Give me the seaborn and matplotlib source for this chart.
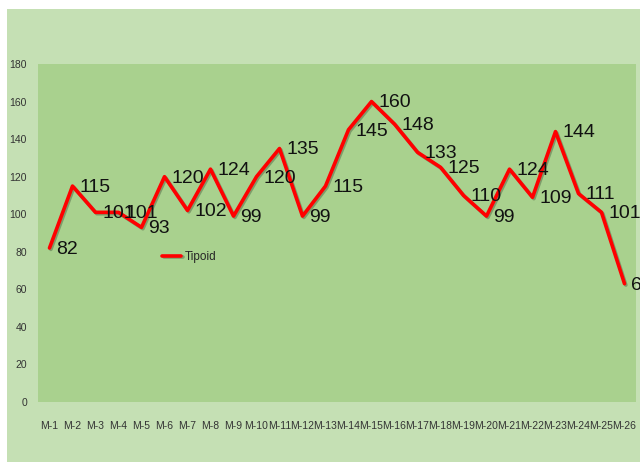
import pandas as pd
import matplotlib.pyplot as plt
import matplotlib.patheffects as pe
from matplotlib.patches import Rectangle
import seaborn as sns

months = ["M-%d" % i for i in range(1, 27)]
tipoid = [82, 115, 101, 101, 93, 120, 102, 124, 99, 120, 135, 99, 115,
          145, 160, 148, 133, 125, 110, 99, 124, 109, 144, 111, 101, 63]

df = pd.DataFrame({"month": months, "Tipoid": tipoid})

sns.set_style("white")
plt.rcParams["font.family"] = ["Liberation Sans Narrow", "Liberation Sans", "DejaVu Sans"]

fig = plt.figure(figsize=(6.4, 4.62), dpi=100, facecolor="white")
# outer chart area
fig.patches.append(Rectangle((7 / 640, 0), 633 / 640, 453 / 462,
                             transform=fig.transFigure, facecolor="#C5E0B4",
                             edgecolor="none", zorder=-10))

ax = fig.add_axes([38 / 640, 60 / 462, 598 / 640, 338 / 462])
ax.set_facecolor("#A9D18E")

sns.lineplot(data=df, x="month", y="Tipoid", sort=False, color="#FF0000",
             linewidth=2.6, label="Tipoid", ax=ax,
             path_effects=[pe.SimpleLineShadow(offset=(1, -1), alpha=0.25),
                           pe.Normal()])

for i, v in enumerate(tipoid):
    ax.annotate(str(v), (i, v), xytext=(5, -1), textcoords="offset points",
                ha="left", va="center", fontsize=14, color="#111111",
                annotation_clip=False)

ax.set_xlim(-0.5, len(months) - 0.5)
ax.set_ylim(0, 180)
ax.set_yticks(range(0, 181, 20))
ax.set_xlabel("")
ax.set_ylabel("")
ax.tick_params(axis="both", length=0, labelsize=7.5, colors="#333333")
ax.tick_params(axis="x", pad=14)
ax.tick_params(axis="y", pad=8)
for s in ax.spines.values():
    s.set_visible(False)

ax.legend(loc="center left", bbox_to_anchor=(0.19, 0.43), frameon=False,
          fontsize=8.5, handlelength=1.6, handletextpad=0.3)

fig.savefig("out.png", dpi=100, facecolor=fig.get_facecolor())
